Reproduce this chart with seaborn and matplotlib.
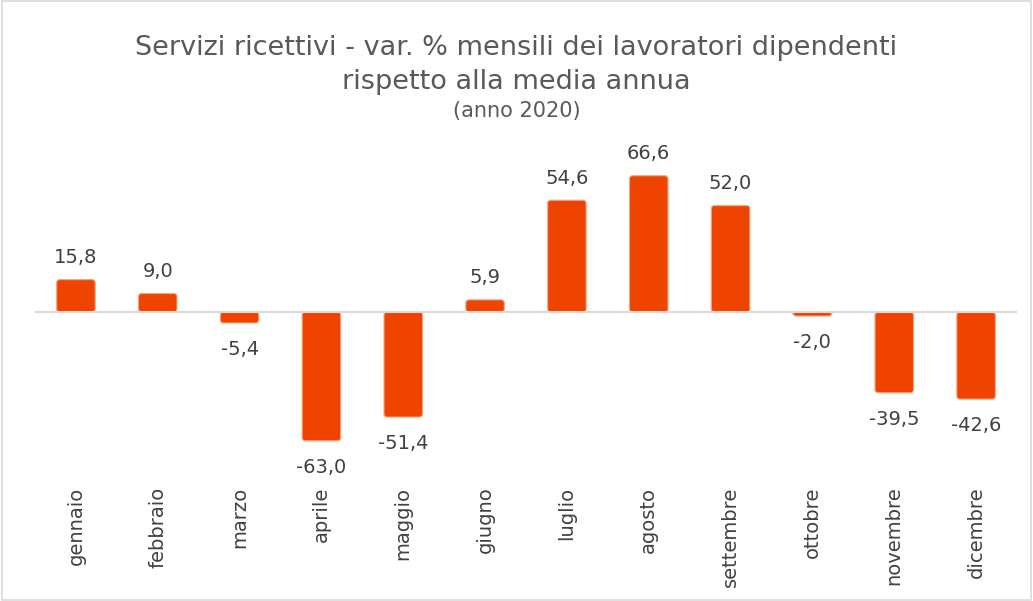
import matplotlib
matplotlib.use("Agg")
import matplotlib.pyplot as plt
import seaborn as sns
import pandas as pd
from matplotlib.patches import Rectangle, FancyBboxPatch

months = ["gennaio", "febbraio", "marzo", "aprile", "maggio", "giugno",
          "luglio", "agosto", "settembre", "ottobre", "novembre", "dicembre"]
values = [15.8, 9.0, -5.4, -63.0, -51.4, 5.9, 54.6, 66.6, 52.0, -2.0, -39.5, -42.6]

df = pd.DataFrame({"mese": months, "var": values})

sns.set_theme(style="white")
plt.rcParams['font.family'] = ['DejaVu Sans']

fig = plt.figure(figsize=(10.33, 6.01), dpi=100)
ax = fig.add_axes([35/1033, 1 - 470/601, 982/1033, 320/601])

sns.barplot(data=df, x="mese", y="var", color="#EE4400", width=0.47,
            saturation=1, ax=ax, zorder=2)

ax.set_ylim(-77.3, 79.2)
ax.set_xlim(-0.5, 11.5)

# round the bar corners (Excel-like look)
px_x = 12.0 / 982.0   # data units per pixel, x
px_y = (79.2 + 77.3) / 320.0  # data units per pixel, y
for p in list(ax.patches):
    x0, y0 = p.get_x(), p.get_y()
    w, h = p.get_width(), p.get_height()
    if h < 0:
        y0, h = y0 + h, -h
    fb = FancyBboxPatch((x0, y0), w, h,
                        boxstyle=f"round,pad=0,rounding_size={3*px_x}",
                        mutation_aspect=px_y / px_x,
                        facecolor="#EE4400", edgecolor="#F6A27C", lw=0.8, zorder=2)
    p.remove()
    ax.add_patch(fb)

ax.axhline(0, color="#D9D9D9", lw=1.5, zorder=3)

for i, v in enumerate(values):
    lab = f"{v:.1f}".replace(".", ",")
    off = 16 if v >= 0 else -19
    ax.annotate(lab, (i, v), xytext=(0, off), textcoords="offset points",
                ha="center", va="center", fontsize=14, color="#404040")

ax.set_xlabel("")
ax.set_ylabel("")
ax.set_yticks([])
ax.tick_params(axis="x", length=0, pad=12, labelsize=14, labelcolor="#404040")
for t in ax.get_xticklabels():
    t.set_rotation(90)
    t.set_va("top")
    t.set_ha("center")
for s in ax.spines.values():
    s.set_visible(False)

fig.text(0.5, 1 - 48/601, "Servizi ricettivi - var. % mensili dei lavoratori dipendenti",
         ha="center", va="center", fontsize=19.5, color="#595959")
fig.text(0.5, 1 - 82/601, "rispetto alla media annua",
         ha="center", va="center", fontsize=19.5, color="#595959")
fig.text(0.5, 1 - 111/601, "(anno 2020)",
         ha="center", va="center", fontsize=15, color="#595959")

fig.patches.append(Rectangle((0.002, 0.002), 0.996, 0.996, transform=fig.transFigure,
                             fill=False, edgecolor="#D9D9D9", lw=1.2))

fig.savefig("out.png", dpi=100)
